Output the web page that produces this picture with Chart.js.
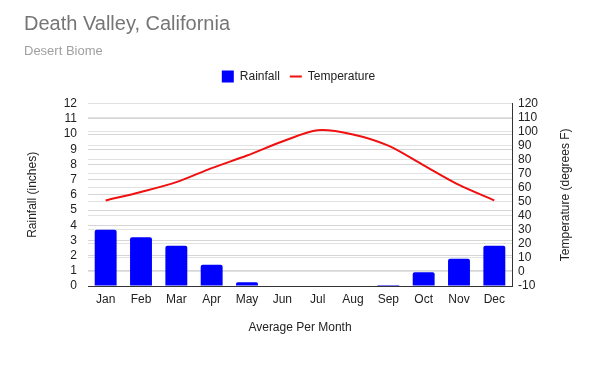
<!DOCTYPE html>
<html>
<head>
<meta charset="utf-8">
<script src="https://cdn.jsdelivr.net/npm/chart.js@4"></script>
<style>
  html, body { margin: 0; padding: 0; background: #fff; }
  #wrap { width: 605px; height: 383px; }
</style>
</head>
<body>
<div id="wrap"><canvas id="climateChart"></canvas></div>
<script>
// Data
var months = ['Jan', 'Feb', 'Mar', 'Apr', 'May', 'Jun', 'Jul', 'Aug', 'Sep', 'Oct', 'Nov', 'Dec'];
var rainfall = [3.7, 3.2, 2.65, 1.4, 0.25, 0, 0, 0, 0.06, 0.9, 1.8, 2.65];
var temperature = [51, 57, 64, 74, 83, 93, 101, 98, 90, 76, 62, 51];

Chart.defaults.font.family = "'Liberation Sans', Arial, sans-serif";
Chart.defaults.font.size = 12;
Chart.defaults.color = '#222';

// right axis title reads bottom-to-top in the original, so draw it here
var rightTitle = {
    id: 'rightTitle',
    afterDraw: function(chart) {
        var ctx = chart.ctx;
        var area = chart.chartArea;
        ctx.save();
        ctx.translate(566, (area.top + area.bottom) / 2);
        ctx.rotate(-Math.PI / 2);
        ctx.font = "12px 'Liberation Sans', Arial, sans-serif";
        ctx.fillStyle = '#222';
        ctx.textAlign = 'center';
        ctx.textBaseline = 'middle';
        ctx.fillText('Temperature (degrees F)', 0, 0);
        ctx.restore();
    }
};

// extra gap below the legend
var legendGap = {
    id: 'legendGap',
    beforeInit: function(chart) {
        var fit = chart.legend.fit;
        chart.legend.fit = function() {
            fit.bind(chart.legend)();
            this.height += 11;
        };
    }
};

var ctx = document.getElementById('climateChart').getContext('2d');
var chart = new Chart(ctx, {
    data: {
        labels: months,
        datasets: [
            {
                type: 'line',
                label: 'Temperature',
                data: temperature,
                yAxisID: 'y1',
                borderColor: '#f01010',
                backgroundColor: '#f01010',
                borderWidth: 2,
                pointRadius: 0,
                pointStyle: 'line',
                tension: 0.3,
                order: 1
            },
            {
                type: 'bar',
                label: 'Rainfall',
                data: rainfall,
                yAxisID: 'y',
                backgroundColor: '#0000ff',
                borderRadius: 2,
                barPercentage: 0.62,
                categoryPercentage: 1,
                pointStyle: 'rect',
                order: 2
            }
        ]
    },
    options: {
        responsive: true,
        maintainAspectRatio: false,
        animation: false,
        layout: { padding: { left: 24, right: 32, top: 12, bottom: 43 } },
        plugins: {
            title: {
                display: true,
                text: 'Death Valley, California',
                align: 'start',
                color: '#757575',
                font: { size: 20, weight: 'normal' },
                padding: { top: 0, bottom: 8 }
            },
            subtitle: {
                display: true,
                text: 'Desert Biome',
                align: 'start',
                color: '#a0a0a0',
                font: { size: 13 },
                padding: { top: 0, bottom: 1 }
            },
            legend: {
                display: true,
                reverse: true,
                labels: {
                    usePointStyle: true,
                    boxWidth: 12,
                    boxHeight: 12,
                    pointStyleWidth: 12,
                    padding: 10,
                    color: '#222'
                }
            },
            tooltip: { enabled: false }
        },
        scales: {
            x: {
                grid: { display: false, drawTicks: false },
                border: { display: true, color: '#333' },
                ticks: { padding: 6, autoSkip: false, maxRotation: 0 },
                title: {
                    display: true,
                    text: 'Average Per Month',
                    padding: { top: 0, bottom: 5 }
                },
                afterFit: function(scale) { scale.height = 54; }
            },
            y: {
                position: 'left',
                min: 0,
                max: 12,
                ticks: { stepSize: 1, padding: 11, autoSkip: false },
                grid: { color: '#d6d6d6', drawTicks: false },
                border: { display: false },
                title: {
                    display: true,
                    text: 'Rainfall (inches)',
                    padding: { top: 1, bottom: 0 }
                },
                afterFit: function(scale) { scale.width = 64; }
            },
            y1: {
                position: 'right',
                min: -10,
                max: 120,
                ticks: { stepSize: 10, padding: 6, autoSkip: false },
                grid: { color: '#e2e2e2', drawTicks: false },
                border: { display: true, color: '#333' },
                afterFit: function(scale) { scale.width = 61; }
            }
        }
    },
    plugins: [rightTitle, legendGap]
});
</script>
</body>
</html>
